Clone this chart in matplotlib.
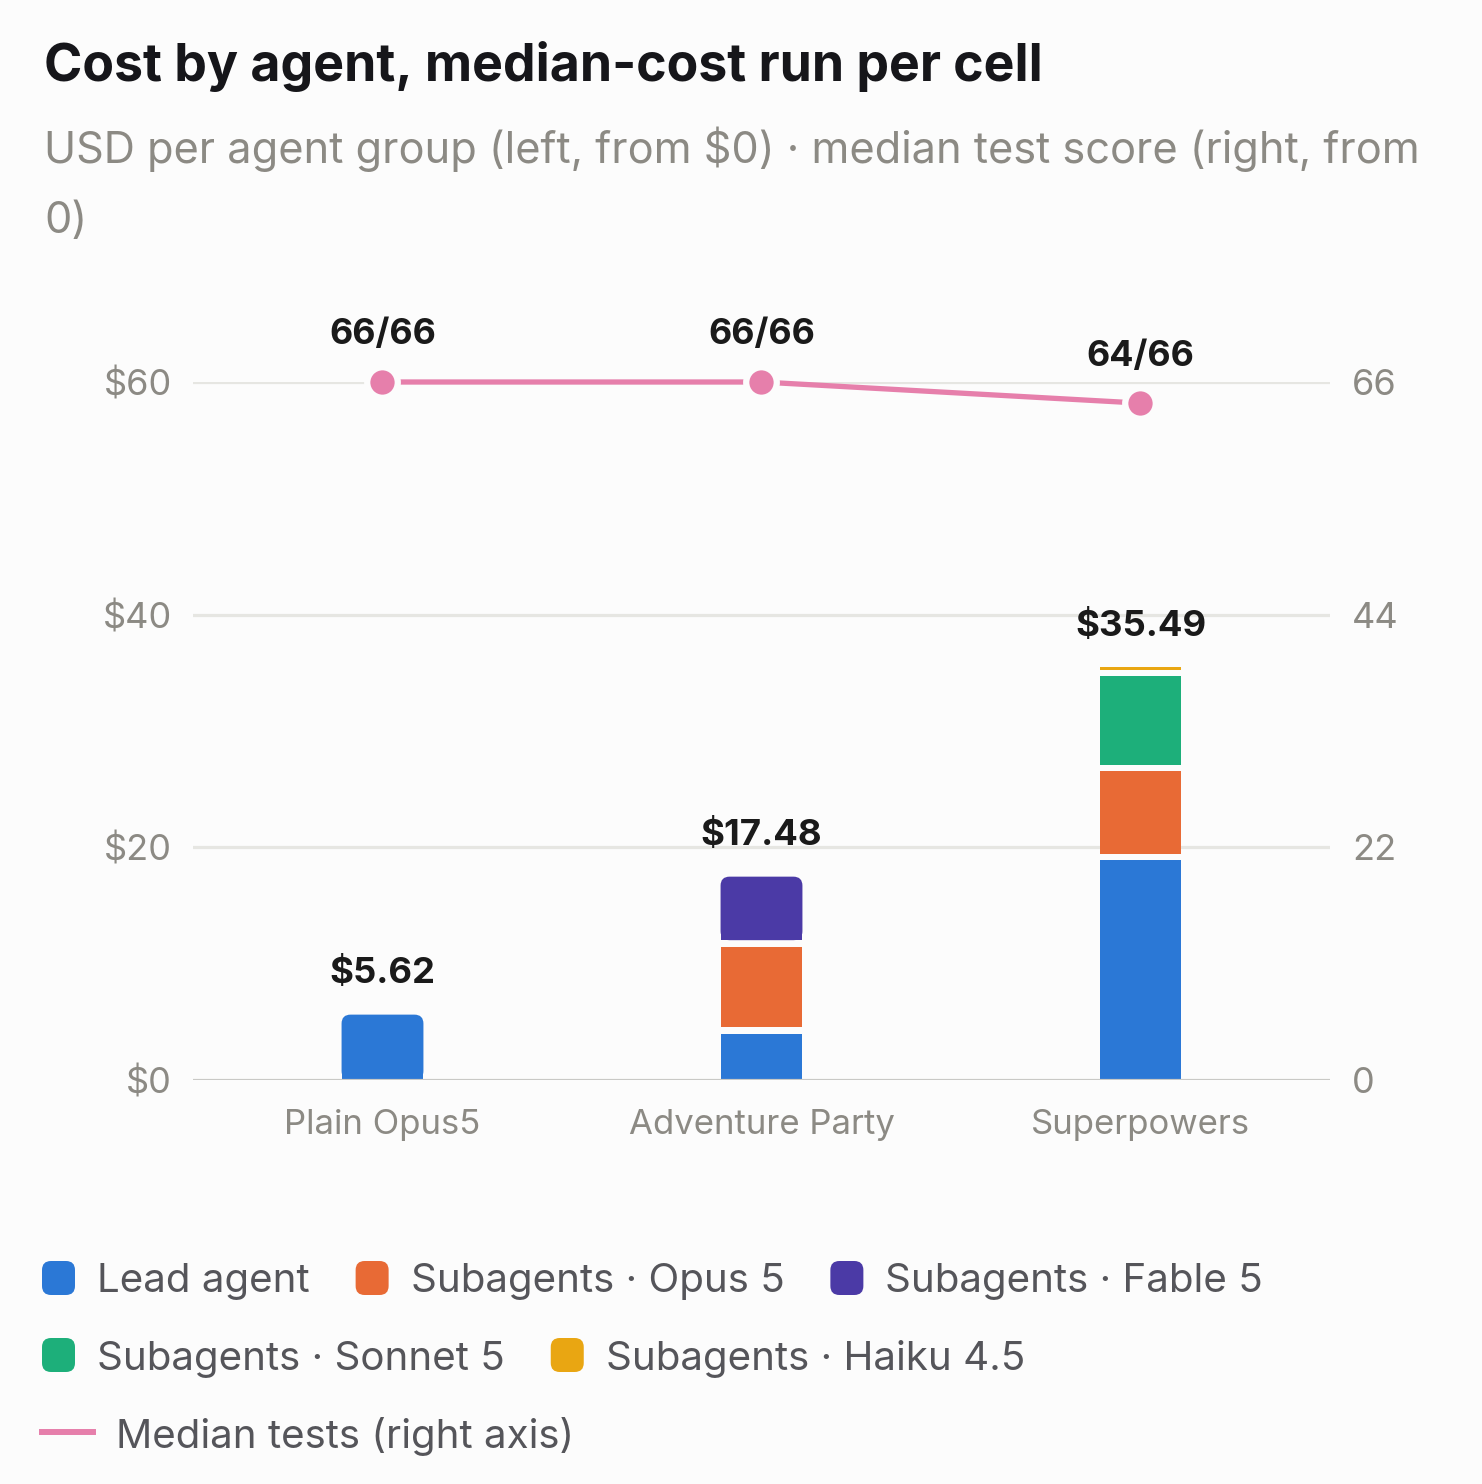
import matplotlib
matplotlib.use("Agg")
import matplotlib.pyplot as plt
from matplotlib.patches import FancyBboxPatch, Rectangle
from matplotlib.lines import Line2D
import numpy as np

plt.rcParams['font.family'] = ['Inter', 'DejaVu Sans']

# data
agents = ["Plain Opus5", "Adventure Party", "Superpowers"]
series = ["Lead agent", "Subagents · Opus 5", "Subagents · Fable 5",
          "Subagents · Sonnet 5", "Subagents · Haiku 4.5"]
lead = [5.62, 4.26, 19.15]
sub_opus = [0.0, 7.48, 7.65]
sub_fable = [0.0, 5.74, 0.0]
sub_sonnet = [0.0, 0.0, 8.22]
sub_haiku = [0.0, 0.0, 0.47]
totals = [5.62, 17.48, 35.49]
median_tests = [66, 66, 64]
max_tests = 66
cost_ticks = [0, 20, 40, 60]
test_ticks = [0, 22, 44, 66]

colors = ["#2B78D6", "#E86A35", "#4B3AA6", "#1DAF7A", "#E9A612"]
pink = "#E67FAB"
bg = "#FCFCFC"
grey_txt = "#8C8A84"

W, H = 1482, 1484
fig = plt.figure(figsize=(W / 100, H / 100), dpi=100, facecolor=bg)
ax = fig.add_axes([193 / W, 1 - 1080 / H, (1330 - 193) / W, (1080 - 382) / H])
ax.set_facecolor(bg)
ax.set_xlim(-0.5, 2.5)
ax.set_ylim(0, 60)

# grid
for t in cost_ticks:
    ax.axhline(t, color="#C9C9C6" if t == 0 else "#E6E6E2",
               lw=2.3, zorder=1 if t else 4)

x = np.arange(len(agents))
bar_w = 0.216
stack = [lead, sub_opus, sub_fable, sub_sonnet, sub_haiku]

# pixel scales
p0 = ax.transData.transform((0, 0))
p1 = ax.transData.transform((1, 1))
x_per_px = 1 / (p1[0] - p0[0])
y_per_px = 1 / (p1[1] - p0[1])
gap = 6.5 * y_per_px
r_px = 9

for i in range(len(agents)):
    segs = [(stack[k][i], colors[k]) for k in range(len(stack)) if stack[k][i] > 0]
    bottom = 0.0
    for j, (v, c) in enumerate(segs):
        top_seg = j == len(segs) - 1
        g_lo = gap / 2 if j > 0 else 0
        g_hi = gap / 2 if not top_seg else 0
        if top_seg and v < 2 * gap:
            g_lo = gap / 3
        lo = bottom + g_lo
        hi = bottom + v - g_hi
        h = max(hi - lo, 3 * y_per_px)
        left = x[i] - bar_w / 2
        if top_seg and h > 2 * r_px * y_per_px:
            aspect = y_per_px / x_per_px
            patch = FancyBboxPatch((left, lo), bar_w, h,
                                   boxstyle=f"round,pad=0,rounding_size={r_px * x_per_px}",
                                   mutation_aspect=aspect, fc=c, ec="none", zorder=3)
            ax.add_patch(patch)
            ax.add_patch(Rectangle((left, lo), bar_w, h - r_px * y_per_px,
                                   fc=c, ec="none", zorder=3))
        else:
            ax.add_patch(Rectangle((left, lo), bar_w, h, fc=c, ec="none", zorder=3))
        bottom += v
    ax.annotate(f"${totals[i]:.2f}", (x[i], totals[i]), xytext=(0, 41),
                textcoords="offset pixels", ha="center", va="center",
                fontsize=26.3, fontweight="bold", color="#1A1A1A", zorder=6)

ax.set_yticks(cost_ticks)
ax.set_yticklabels([f"${t}" for t in cost_ticks])
ax.set_xticks(x)
ax.set_xticklabels(agents)
ax.tick_params(axis="y", length=0, pad=15, labelsize=26, labelcolor=grey_txt)
ax.tick_params(axis="x", length=0, pad=21, labelsize=25, labelcolor=grey_txt)
for s in ax.spines.values():
    s.set_visible(False)

# right axis
ax2 = ax.twinx()
ax2.set_ylim(0, max_tests)
ax2.set_yticks(test_ticks)
ax2.tick_params(axis="y", length=0, pad=16, labelsize=26, labelcolor=grey_txt)
for s in ax2.spines.values():
    s.set_visible(False)
ax2.plot(x, median_tests, color=pink, lw=3.8, marker="o", ms=22,
         mfc=pink, mec=bg, mew=4.5, zorder=5, solid_capstyle="butt",
         clip_on=False)
for i, v in enumerate(median_tests):
    ax2.annotate(f"{v}/{max_tests}", (x[i], v), xytext=(0, 47),
                 textcoords="offset pixels", ha="center", va="center",
                 fontsize=25.8, fontweight="bold", color="#1A1A1A")

# titles
fig.text(44 / W, 1 - 67 / H, "Cost by agent, median-cost run per cell",
         fontsize=37.3, fontweight="bold", color="#16161A", va="center")
fig.text(44 / W, 1 - 127 / H,
         "USD per agent group (left, from $0) · median test score (right, from\n0)",
         fontsize=31.2, color=grey_txt, va="top", linespacing=1.9)

# legend, flow layout
renderer = fig.canvas.get_renderer()
entries = [(s, c, "box") for s, c in zip(series, colors)]
entries.append(("Median tests (right axis)", pink, "line"))
row_y = [1278, 1355, 1432]
leg_size = 29
row = 0
cur_x = 42
max_x = 1440
for label, c, kind in entries:
    if kind == "line":
        if cur_x > 42:
            row += 1
            cur_x = 42
        yy = row_y[row]
        fig.add_artist(Line2D([cur_x / W, (cur_x + 51) / W], [1 - yy / H] * 2,
                              color=c, lw=4.3, transform=fig.transFigure))
        fig.text((cur_x + 74) / W, 1 - yy / H, label, fontsize=leg_size,
                 color="#55555A", va="center_baseline")
        continue
    t = fig.text(0, 0, label, fontsize=leg_size, color="#55555A", va="center_baseline")
    tw = t.get_window_extent(renderer).width
    if cur_x + 55 + tw > max_x:
        row += 1
        cur_x = 42
    yy = row_y[row]
    t.set_position(((cur_x + 55) / W, 1 - yy / H))
    fig.add_artist(FancyBboxPatch((cur_x / W, 1 - (yy + 17) / H), 33 / W, 34 / H,
                                  boxstyle=f"round,pad=0,rounding_size={9 / W}",
                                  mutation_aspect=W / H, fc=c, ec="none",
                                  transform=fig.transFigure))
    cur_x = cur_x + 55 + tw + 46

fig.savefig("out.png", dpi=100, facecolor=bg)
